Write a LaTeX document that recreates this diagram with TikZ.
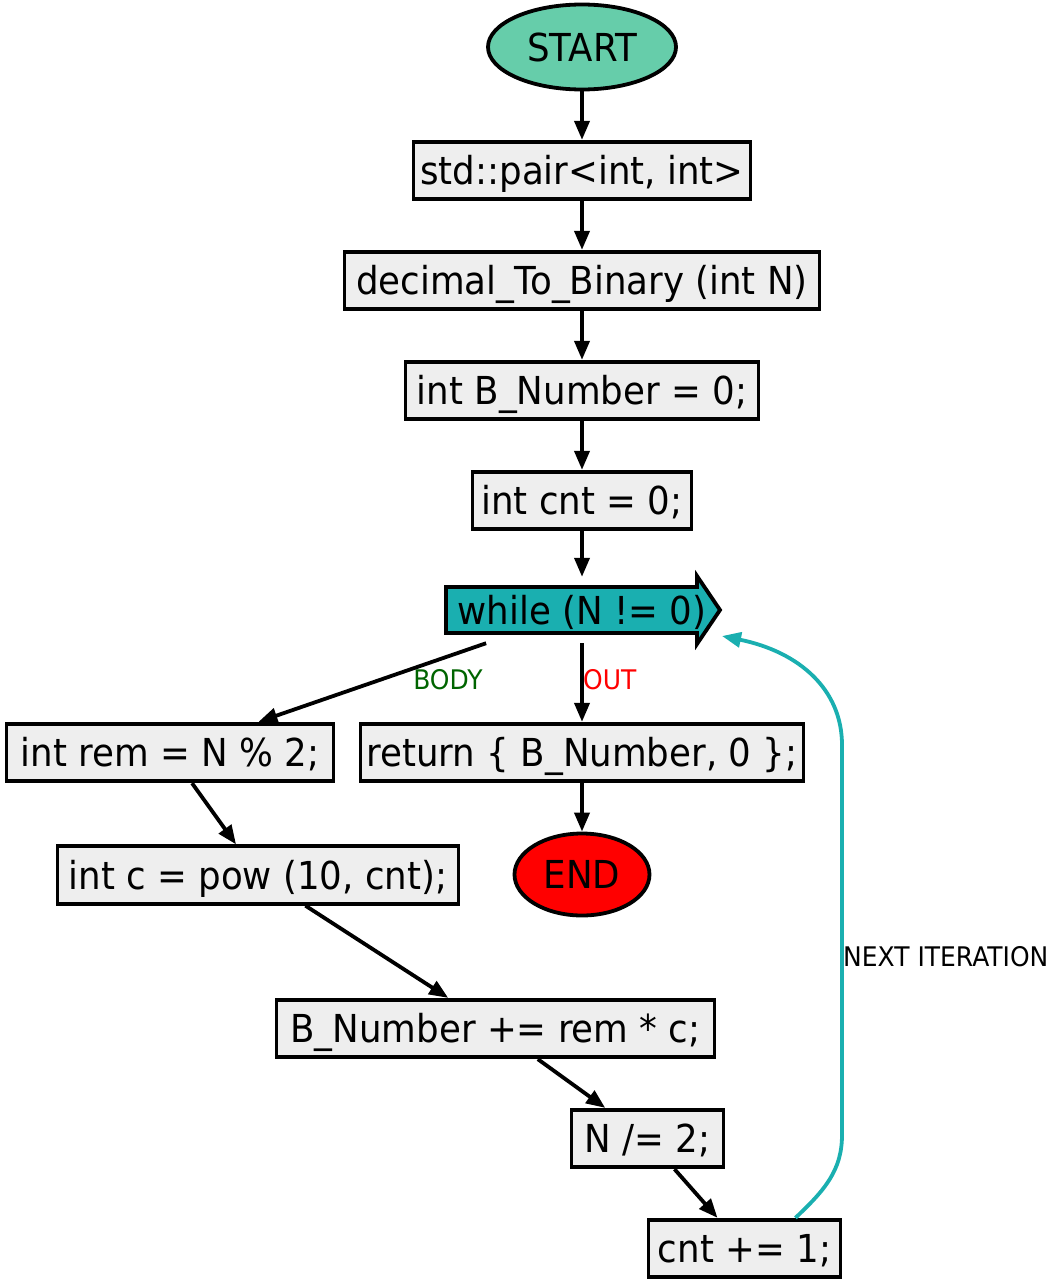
\documentclass[tikz,border=0pt]{standalone}
\usepackage{fontspec}
\setmainfont{DejaVu Sans}[FakeStretch=0.925]
\usetikzlibrary{arrows.meta,shapes.geometric}
\definecolor{boxgray}{HTML}{EEEEEE}
\definecolor{startc}{HTML}{66CDAA}
\definecolor{tealc}{HTML}{1AAFB0}
\definecolor{bodyg}{HTML}{006400}
\begin{document}
\begin{tikzpicture}[x=1pt,y=-1pt,
  mainfont/.style={font=\fontsize{38.5}{42}\selectfont, text height=28.2pt, text depth=0pt},
  box/.style={draw, line width=3.8pt, fill=boxgray, minimum height=57.5pt, inner sep=0pt, mainfont},
  ell/.style={draw, ellipse, line width=3.8pt, inner sep=0pt, mainfont},
  edge/.style={line width=3.8pt, -{Triangle[length=19pt,width=15pt]}},
  lbl/.style={font=\fontsize{27}{29}\selectfont, inner sep=0pt, text height=19.7pt, text depth=0pt}]
\useasboundingbox (0,0) rectangle (1055,1285);

% while arrow shape
\draw[line width=3.8pt, fill=tealc, line join=miter]
  (446,587) -- (697,587) -- (697,576) -- (720,610) -- (697,644) -- (697,633) -- (446,633) -- cycle;

\node[ell, fill=startc, minimum width=188pt, minimum height=85pt] (start) at (582,47) {START};
\node[box, minimum width=337pt] (pair) at (582,170.5) {std::pair<int, int>};
\node[box, minimum width=475pt] (dec) at (582,280.5) {decimal\_To\_Binary (int N)};
\node[box, minimum width=353pt] (bnum) at (582,390.5) {int B\_Number = 0;};
\node[box, minimum width=219pt] (cnt0) at (582,500.5) {int cnt = 0;};
\node[mainfont, minimum width=272pt, minimum height=66pt, inner sep=0pt] (wh) at (582,610) {while (N != 0)};
\node[box, minimum width=327pt] (rem) at (170,752.5) {int rem = N \% 2;};
\node[box, minimum width=443pt] (ret) at (582,752.5) {return \{ B\_Number, 0 \};};
\node[ell, fill=red, minimum width=135pt, minimum height=82pt] (end) at (582,874.5) {END};
\node[box, minimum width=401pt] (powc) at (258,875) {int c = pow (10, cnt);};
\node[box, minimum width=438pt] (badd) at (495.5,1028.5) {B\_Number += rem * c;};
\node[box, minimum width=152pt] (ndiv) at (647.5,1138.5) {N /= 2;};
\node[box, minimum width=192pt] (cnt1) at (744.5,1248.5) {cnt += 1;};

\node[lbl, text=bodyg] (bodyl) at (448,680) {BODY};
\node[lbl, text=red, anchor=west] (outl) at (583,680) {OUT};
\node[lbl, anchor=west] (nextl) at (843,957) {NEXT ITERATION};

\draw[edge] (start) -- (pair);
\draw[edge] (pair) -- (dec);
\draw[edge] (dec) -- (bnum);
\draw[edge] (bnum) -- (cnt0);
\draw[edge] (cnt0) -- (wh);
\draw[edge] (wh) -- (rem);
\draw[edge] (wh) -- (ret);
\draw[edge] (ret) -- (end);
\draw[edge] (rem) -- (powc);
\draw[edge] (powc) -- (badd);
\draw[edge] (badd) -- (ndiv);
\draw[edge] (ndiv) -- (cnt1);
\coordinate (whin) at (722,636);
\draw[edge, tealc] ([xshift=-47pt]cnt1.north east) .. controls (825,1190) and (842,1170) .. (842,1135) -- (842,745) .. controls (842,690) and (800,652) .. (whin);
\end{tikzpicture}
\end{document}
